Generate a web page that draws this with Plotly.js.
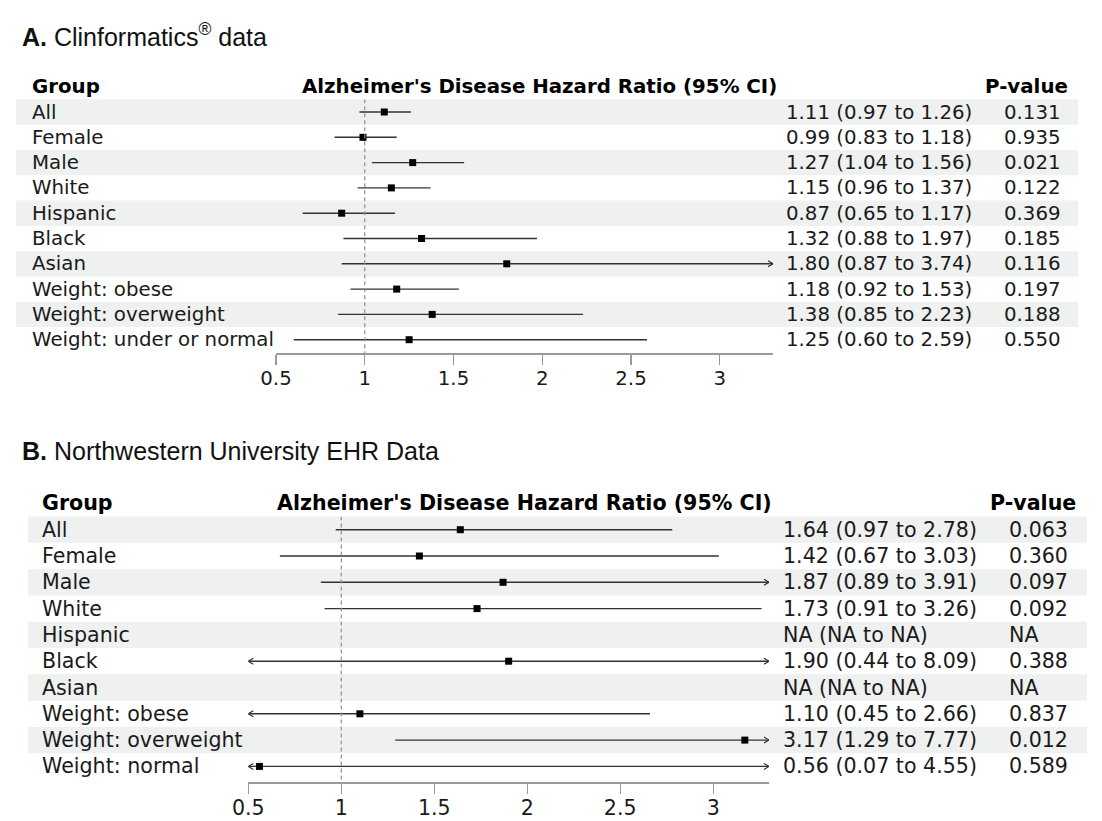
<!DOCTYPE html>
<html>
<head>
<meta charset="utf-8">
<script src="https://cdn.plot.ly/plotly-3.0.1.min.js"></script>
<style>html,body{margin:0;padding:0;background:#fff;}#chart{width:1102px;height:821px;}</style>
</head>
<body>
<div id="chart"></div>
<script>
// ---------------- DATA ----------------
const groupsA = ["All","Female","Male","White","Hispanic","Black","Asian","Weight: obese","Weight: overweight","Weight: under or normal"];
const hrA = [1.11,0.99,1.27,1.15,0.87,1.32,1.80,1.18,1.38,1.25];
const loA = [0.97,0.83,1.04,0.96,0.65,0.88,0.87,0.92,0.85,0.60];
const hiA = [1.26,1.18,1.56,1.37,1.17,1.97,3.74,1.53,2.23,2.59];
const pA  = [0.131,0.935,0.021,0.122,0.369,0.185,0.116,0.197,0.188,0.550];

const groupsB = ["All","Female","Male","White","Hispanic","Black","Asian","Weight: obese","Weight: overweight","Weight: normal"];
const hrB = [1.64,1.42,1.87,1.73,null,1.90,null,1.10,3.17,0.56];
const loB = [0.97,0.67,0.89,0.91,null,0.44,null,0.45,1.29,0.07];
const hiB = [2.78,3.03,3.91,3.26,null,8.09,null,2.66,7.77,4.55];
const pB  = [0.063,0.360,0.097,0.092,null,0.388,null,0.837,0.012,0.589];

const tickVals = [0.5,1,1.5,2,2.5,3];
const tickText = ["0.5","1","1.5","2","2.5","3"];
const refValue = 1;
const titleA = "<b>A.</b> Clinformatics<sup>®</sup> data";
const titleB = "<b>B.</b> Northwestern University EHR Data";
const headGroup = "Group";
const headCI = "Alzheimer's Disease Hazard Ratio (95% CI)";
const headP = "P-value";

// ---------------- LAYOUT HELPERS ----------------
const W = 1102, H = 821;
const px = x => x / W;
const py = y => 1 - y / H;
const XMIN = 0.5, XMAX = 3.3;

const panels = [
  {groups: groupsA, hr: hrA, lo: loA, hi: hiA, p: pA, title: titleA,
   xa: "x", ya: "y", top: 99.35, rowH: 25.3, axisY: 353.3, x0: 276, x1: 773,
   bandL: 16, bandR: 1078, labelX: 30, ciHeadX: 300, valX: 784, pHeadX: 983, pX: 1002,
   font: 19.8, titleY: 35, titleSize: 25},
  {groups: groupsB, hr: hrB, lo: loB, hi: hiB, p: pB, title: titleB,
   xa: "x2", ya: "y2", top: 516.55, rowH: 26.3, axisY: 782.3, x0: 248.3, x1: 769,
   bandL: 28, bandR: 1087, labelX: 40, ciHeadX: 275, valX: 781, pHeadX: 988, pX: 1007,
   font: 20.6, titleY: 451, titleSize: 25}
];

const FONT = "DejaVu Sans, Verdana, sans-serif";
const TITLEFONT = "Liberation Sans, Arial, sans-serif";
const TXT = "#1a1a1a";

const traces = [];
const shapes = [];
const annotations = [];
const layout = {
  width: W, height: H, margin: {l: 0, r: 0, t: 0, b: 0},
  paper_bgcolor: "#ffffff", plot_bgcolor: "rgba(0,0,0,0)",
  showlegend: false, shapes: shapes, annotations: annotations
};

const fmt2 = v => v.toFixed(2);

panels.forEach((P, k) => {
  const n = P.groups.length;
  const rowPx = i => P.top + P.rowH * (i + 0.5);
  const yBottom = -0.5 + (P.axisY - P.top) / P.rowH;
  const axName = k === 0 ? "xaxis" : "xaxis2";
  const ayName = k === 0 ? "yaxis" : "yaxis2";
  layout[axName] = {
    domain: [px(P.x0), px(P.x1)], range: [XMIN, XMAX], anchor: P.ya,
    tickvals: tickVals, ticktext: tickText, ticks: "outside", ticklen: 10,
    tickcolor: "#9a9a9a", tickwidth: 1.2, showline: true, linecolor: "#9a9a9a", linewidth: 1.2,
    showgrid: false, zeroline: false, fixedrange: true, ticklabelstandoff: -3,
    tickfont: {family: FONT, size: P.font, color: TXT}
  };
  layout[ayName] = {
    domain: [py(P.axisY), py(P.top)], range: [yBottom, -0.5], anchor: P.xa,
    visible: false, fixedrange: true
  };

  // stripes
  for (let i = 0; i < n; i += 2) {
    shapes.push({type: "rect", xref: "paper", yref: "paper", layer: "below",
      x0: px(P.bandL), x1: px(P.bandR),
      y0: py(P.top + P.rowH * i), y1: py(P.top + P.rowH * (i + 1)),
      fillcolor: "#eef1f0", line: {width: 0}});
  }
  // reference line
  shapes.push({type: "line", xref: P.xa, yref: P.ya, x0: refValue, x1: refValue,
    y0: -0.5, y1: yBottom, line: {color: "#8f8f8f", width: 1.2, dash: "4px,3px"}});

  // CI lines (clipped to axis range)
  const lx = [], ly = [];
  const ax = [], ay = [];
  const dx = 5 / ((P.x1 - P.x0) / (XMAX - XMIN));
  const dy = 3 / P.rowH;
  for (let i = 0; i < n; i++) {
    if (P.hr[i] === null) continue;
    const l = Math.max(P.lo[i], XMIN), h = Math.min(P.hi[i], XMAX);
    lx.push(l, h, null); ly.push(i, i, null);
    if (P.hi[i] > XMAX) { ax.push(XMAX - dx, XMAX, XMAX - dx, null); ay.push(i - dy, i, i + dy, null); }
    if (P.lo[i] < XMIN) { ax.push(XMIN + dx, XMIN, XMIN + dx, null); ay.push(i - dy, i, i + dy, null); }
  }
  traces.push({type: "scatter", mode: "lines", x: lx, y: ly, xaxis: P.xa, yaxis: P.ya,
    line: {color: "#333333", width: 1.4}, hoverinfo: "skip", cliponaxis: false});
  traces.push({type: "scatter", mode: "lines", x: ax, y: ay, xaxis: P.xa, yaxis: P.ya,
    line: {color: "#333333", width: 1.2}, hoverinfo: "skip", cliponaxis: false});
  // point estimates
  traces.push({type: "scatter", mode: "markers", x: P.hr, y: P.groups.map((g, i) => i),
    xaxis: P.xa, yaxis: P.ya, marker: {symbol: "square", size: 7, color: "#000"},
    hoverinfo: "x", cliponaxis: false});

  // title
  annotations.push({xref: "paper", yref: "paper", x: px(20), y: py(P.titleY), xanchor: "left", yanchor: "middle",
    text: P.title, showarrow: false, font: {family: TITLEFONT, size: P.titleSize, color: "#111"}});
  // headers
  const hy = py(P.top - P.rowH * 0.5);
  const hf = {family: FONT, size: P.font, color: "#000", weight: "bold"};
  annotations.push({xref: "paper", yref: "paper", x: px(P.labelX), y: hy, xanchor: "left", yanchor: "middle",
    text: "<b>" + headGroup + "</b>", showarrow: false, font: hf});
  annotations.push({xref: "paper", yref: "paper", x: px(P.ciHeadX), y: hy, xanchor: "left", yanchor: "middle",
    text: "<b>" + headCI + "</b>", showarrow: false, font: hf});
  annotations.push({xref: "paper", yref: "paper", x: px(P.pHeadX), y: hy, xanchor: "left", yanchor: "middle",
    text: "<b>" + headP + "</b>", showarrow: false, font: hf});
  // rows
  const rf = {family: FONT, size: P.font, color: TXT};
  for (let i = 0; i < n; i++) {
    const y = py(rowPx(i));
    annotations.push({xref: "paper", yref: "paper", x: px(P.labelX), y: y, xanchor: "left", yanchor: "middle",
      text: P.groups[i], showarrow: false, font: rf});
    const ci = P.hr[i] === null ? "NA (NA to NA)" :
      fmt2(P.hr[i]) + " (" + fmt2(P.lo[i]) + " to " + fmt2(P.hi[i]) + ")";
    annotations.push({xref: "paper", yref: "paper", x: px(P.valX), y: y, xanchor: "left", yanchor: "middle",
      text: ci, showarrow: false, font: rf});
    const pv = P.p[i] === null ? "NA" : P.p[i].toFixed(3);
    annotations.push({xref: "paper", yref: "paper", x: px(P.pX), y: y, xanchor: "left", yanchor: "middle",
      text: pv, showarrow: false, font: rf});
  }
});

Plotly.newPlot("chart", traces, layout, {displayModeBar: false, staticPlot: true});
</script>
</body>
</html>
